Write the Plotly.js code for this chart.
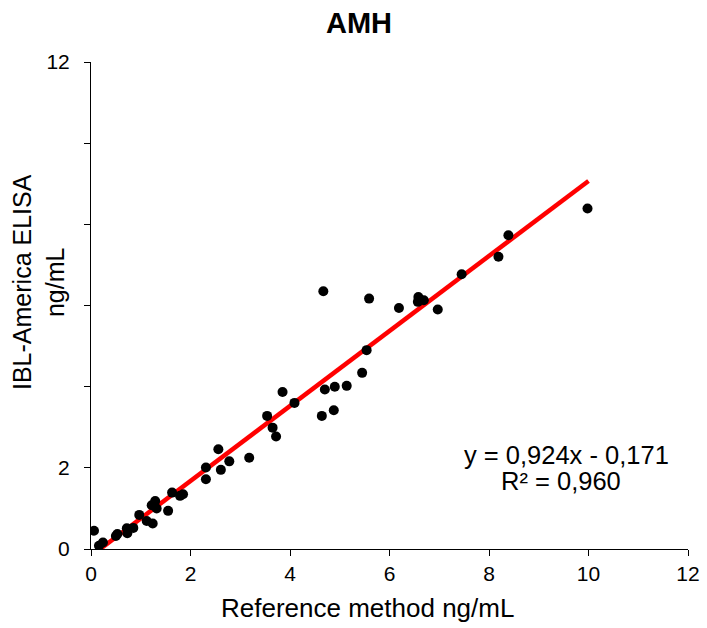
<!DOCTYPE html>
<html>
<head>
<meta charset="utf-8">
<script src="https://cdn.plot.ly/plotly-3.0.1.min.js"></script>
<style>html,body{margin:0;padding:0;background:#fff;}#chart{width:707px;height:628px;}</style>
</head>
<body>
<div id="chart"></div>
<script>
// Reference method (x) vs IBL-America ELISA (y), ng/mL
const refX = [0.06,0.16,0.24,0.50,0.53,0.72,0.73,0.85,0.97,1.12,1.24,1.22,1.29,1.32,1.55,1.63,1.79,1.85,
  2.31,2.31,2.56,2.61,2.78,3.18,3.54,3.65,3.72,3.85,4.09,4.64,4.70,4.88,4.90,5.14,5.45,5.54,
  4.67,5.59,6.19,6.58,6.57,6.69,6.97,7.45,8.19,8.39,9.98];
const elisaY = [0.45,0.08,0.16,0.32,0.37,0.51,0.39,0.52,0.84,0.69,0.63,1.08,1.18,1.00,0.94,1.39,1.31,1.35,
  2.01,1.72,2.46,1.95,2.16,2.25,3.28,2.99,2.77,3.87,3.60,3.28,3.93,3.42,4.00,4.02,4.34,4.90,
  6.35,6.17,5.94,6.21,6.09,6.13,5.90,6.77,7.20,7.73,8.39];
// Linear trend shown on the chart: y = 0,924x - 0,171
const slope = 0.924, intercept = -0.171;
const trendX = [0.185, 10.0];
const trendY = trendX.map(x => slope * x + intercept);
const axisTicks = [0, 2, 4, 6, 8, 10, 12];
const xTickText = ["0", "2", "4", "6", "8", "10", "12"];
const yTickText = ["0", "2", "", "", "", "", "12"];

const FONT = "Arial, 'Liberation Sans', sans-serif";

const data = [
  {x: trendX, y: trendY, type: 'scatter', mode: 'lines', line: {color: '#ff0000', width: 4.5}, hoverinfo: 'skip'},
  {x: refX, y: elisaY, type: 'scatter', mode: 'markers', marker: {color: '#000000', size: 10}}
];

const layout = {
  width: 707, height: 628,
  margin: {l: 91, r: 19, t: 62, b: 79, pad: 0},
  paper_bgcolor: '#ffffff', plot_bgcolor: '#ffffff',
  showlegend: false,
  font: {family: FONT, color: '#000000'},
  title: {text: '<b>AMH</b>', x: 359/707, xref: 'container', xanchor: 'center', y: 1 - 23/628, yref: 'container', yanchor: 'middle', font: {family: FONT, size: 29, color: '#000'}},
  xaxis: {
    range: [0, 12], tickvals: axisTicks, ticktext: xTickText,
    showgrid: false, zeroline: false, showline: true, linecolor: '#000', linewidth: 1,
    ticks: 'outside', ticklen: 6, tickcolor: '#000', tickwidth: 1,
    tickfont: {family: FONT, size: 21, color: '#000'}, fixedrange: true
  },
  yaxis: {
    range: [0, 12], tickvals: axisTicks, ticktext: yTickText,
    showgrid: false, zeroline: false, showline: true, linecolor: '#000', linewidth: 1,
    ticks: 'outside', ticklen: 6, tickcolor: '#000', tickwidth: 1, ticklabelstandoff: 10,
    tickfont: {family: FONT, size: 21, color: '#000'}, fixedrange: true
  },
  annotations: [
    {text: 'Reference method ng/mL', xref: 'paper', yref: 'paper', x: (367-91)/597, y: (549-608)/487,
     xanchor: 'center', yanchor: 'middle', showarrow: false, font: {family: FONT, size: 26, color: '#000'}},
    {text: 'IBL-America ELISA<br>ng/mL', xref: 'paper', yref: 'paper', x: (38-91)/597, y: (549-282)/487,
     xanchor: 'center', yanchor: 'middle', textangle: -90, showarrow: false, font: {family: FONT, size: 25, color: '#000'}},
    {text: 'y = 0,924x - 0,171', xref: 'paper', yref: 'paper', x: (566-91)/597, y: (549-455)/487,
     xanchor: 'center', yanchor: 'middle', showarrow: false, font: {family: FONT, size: 25.5, color: '#000'}},
    {text: 'R² = 0,960', xref: 'paper', yref: 'paper', x: (561-91)/597, y: (549-481)/487,
     xanchor: 'center', yanchor: 'middle', showarrow: false, font: {family: FONT, size: 25.5, color: '#000'}}
  ]
};

Plotly.newPlot('chart', data, layout, {displayModeBar: false, staticPlot: true});
</script>
</body>
</html>
